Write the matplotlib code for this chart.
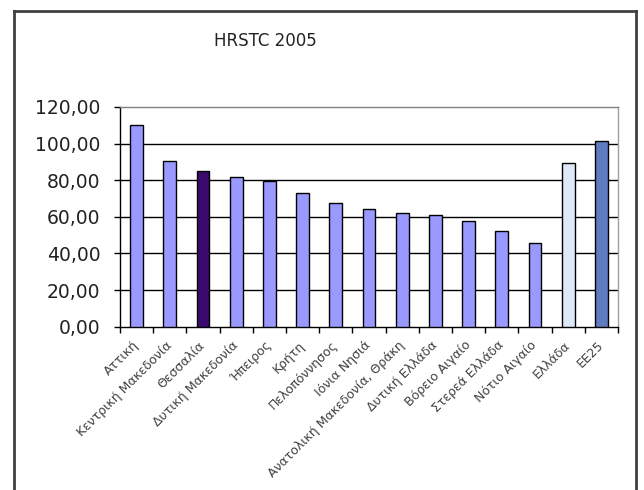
import matplotlib
matplotlib.use("Agg")
import matplotlib.pyplot as plt
from matplotlib.lines import Line2D
import numpy as np

plt.rcParams['font.family'] = ['DejaVu Sans']

# regions + Greece + EU25
regions = ['Αττική', 'Κεντρική Μακεδονία', 'Θεσσαλία', 'Δυτική Μακεδονία',
           'Ήπειρος', 'Κρήτη', 'Πελοπόννησος', 'Ιόνια Νησιά',
           'Ανατολική Μακεδονία, Θράκη', 'Δυτική Ελλάδα', 'Βόρειο Αιγαίο',
           'Στερεά Ελλάδα', 'Νότιο Αιγαίο', 'Ελλάδα', 'ΕΕ25']
values = [110.2, 90.5, 85.0, 81.6, 79.8, 72.9, 67.4, 64.3,
          62.0, 60.9, 57.6, 52.1, 45.6, 89.3, 101.3]
yticks = [0, 20, 40, 60, 80, 100, 120]

colors = ['#9999ff'] * len(regions)
colors[2] = '#3a0a6e'    # Θεσσαλία
colors[13] = '#dde8f8'   # Ελλάδα
colors[14] = '#5e7cbf'   # ΕΕ25

fig = plt.figure(figsize=(6.44, 4.90), dpi=100)
ax = fig.add_axes([120/644, 1-326.7/490, 498/644, (326.7-107)/490])

x = np.arange(len(regions))
ax.bar(x, values, width=0.38, color=colors, edgecolor='black', linewidth=1, zorder=3)

ax.set_xlim(-0.5, len(regions)-0.5)
ax.set_ylim(0, 120)
ax.set_yticks(yticks)
ax.set_yticklabels([('%.2f' % v).replace('.', ',') for v in yticks], fontsize=13.5, color='#222222')
ax.yaxis.set_tick_params(length=4, width=1, color='black', pad=10)
# gridlines
for v in yticks[1:-1]:
    ax.axhline(v, color='black', linewidth=1, zorder=1)

# ticks between categories, labels at centres
ax.set_xticks(x)
ax.set_xticklabels(regions, rotation=45, ha='right', va='center',
                   rotation_mode='anchor', fontsize=9, color='#404040')
ax.tick_params(axis='x', which='major', length=0, pad=12)
ax.set_xticks(np.arange(len(regions)+1)-0.5, minor=True)
ax.tick_params(axis='x', which='minor', length=4, width=1, color='black')

ax.spines['left'].set_color('black')
ax.spines['bottom'].set_color('black')
ax.spines['top'].set_color('#808080')
ax.spines['right'].set_color('#a0a0a0')
for s in ax.spines.values():
    s.set_linewidth(1)

fig.text(265/644, 1-41/490, 'HRSTC 2005', ha='center', va='center', fontsize=12, color='#222222')

# chart border
W, H = 644, 490
fig.add_artist(Line2D([13.5/W, 13.5/W], [0, 1-11/H], color='#404040', linewidth=2))
fig.add_artist(Line2D([13.5/W, 636/W], [1-11/H, 1-11/H], color='#404040', linewidth=2))
fig.add_artist(Line2D([636/W, 636/W], [0, 1-11/H], color='#404040', linewidth=2))

fig.savefig('out.png', dpi=100, facecolor='white')
